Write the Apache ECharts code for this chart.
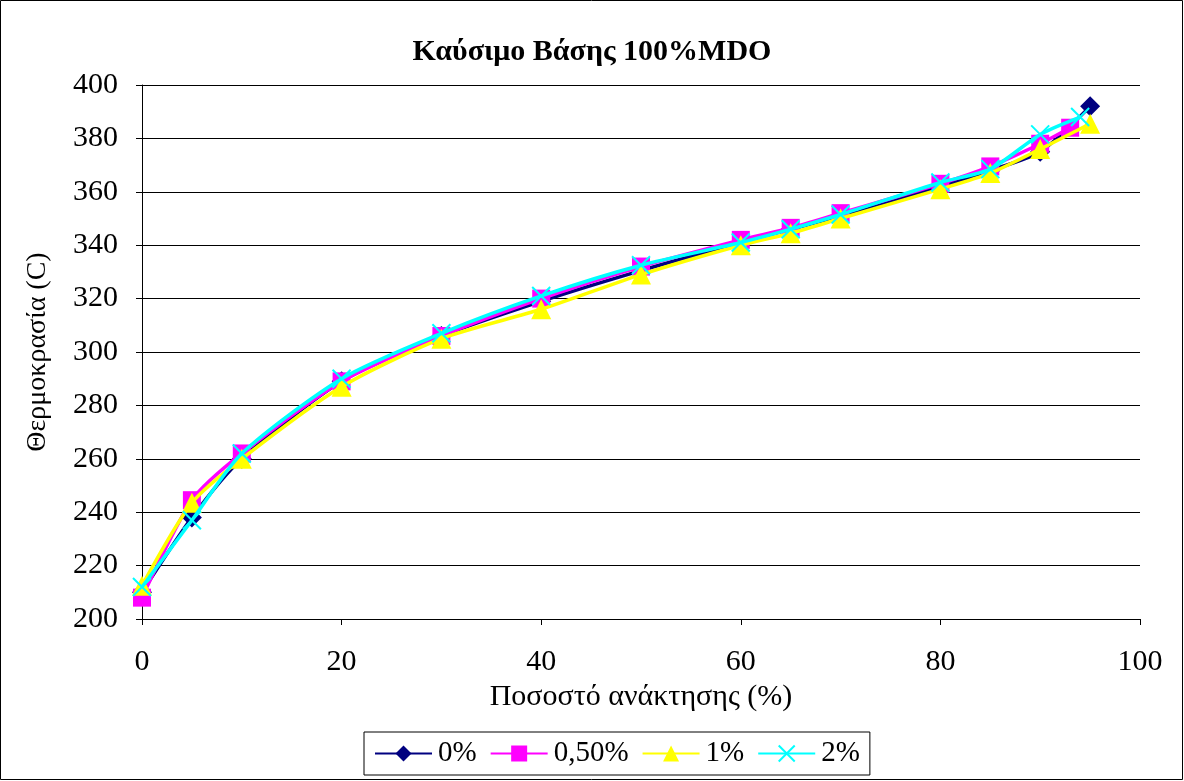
<!DOCTYPE html>
<html><head><meta charset="utf-8">
<script src="https://cdn.jsdelivr.net/npm/echarts@6/dist/echarts.min.js"></script>
<style>html,body{margin:0;padding:0;background:#fff}#c{width:1184px;height:781px}</style>
</head><body><div id="c"></div>
<script>
const title = 'Καύσιμο Βάσης 100%MDO';
const xLabel = 'Ποσοστό ανάκτησης (%)';
const yLabel = 'Θερμοκρασία (C)';
const seriesNames = ['0%', '0,50%', '1%', '2%'];
const x0 = [0, 5, 10, 20, 30, 40, 50, 60, 65, 70, 80, 85, 90, 95];
const y0 = [210, 238, 260, 289, 306, 319, 330.5, 341, 346, 351, 362, 368, 375, 392];
const x05 = [0, 5, 10, 20, 30, 40, 50, 60, 65, 70, 80, 85, 90, 93];
const y05 = [208, 244.5, 262, 289, 306, 320, 332, 342, 346.5, 352, 363, 369.5, 378, 384];
const x1 = [0, 5, 10, 20, 30, 40, 50, 60, 65, 70, 80, 85, 90, 95];
const y1 = [212.5, 243.5, 260, 287, 305, 316, 329, 340, 344.5, 350, 361, 367, 376, 385.5];
const x2 = [0, 5, 10, 20, 30, 40, 50, 60, 65, 70, 80, 85, 90, 94];
const y2 = [212, 237, 262, 290, 307, 321, 332.5, 341, 346, 351.5, 363.5, 368.5, 381.5, 388];

const font = "'Liberation Serif','Times New Roman',serif";
const colors = ['#000080', '#FF00FF', '#FFFF00', '#00FFFF'];
const xs = [x0, x05, x1, x2];
const ys = [y0, y05, y1, y2];
const symbols = ['diamond', 'rect', 'triangle', 'path://M0,0L10,10M10,0L0,10'];
const sizes = [20, 18, 20, 18];

const chart = echarts.init(document.getElementById('c'));
chart.setOption({
  backgroundColor: '#fff',
  animation: false,
  title: { text: title, left: 'center', top: 32, textStyle: { fontFamily: font, fontSize: 30, fontWeight: 'bold', color: '#000' } },
  grid: { left: 142, top: 85, width: 998, height: 534, containLabel: false },
  legend: {
    bottom: 6, left: 364, data: seriesNames,
    itemWidth: 57, itemHeight: 20, itemGap: 13,
    borderColor: '#000', borderWidth: 1, padding: [7, 10, 7, 10],
    textStyle: { fontFamily: font, fontSize: 29, color: '#000', padding: [0, 0, 0, 1] }
  },
  xAxis: {
    type: 'value', min: 0, max: 100, interval: 20,
    name: xLabel, nameLocation: 'middle', nameGap: 57,
    nameTextStyle: { fontFamily: font, fontSize: 30, color: '#000' },
    axisLine: { lineStyle: { color: '#000', width: 1 } },
    axisTick: { show: true, inside: false, length: 6, lineStyle: { color: '#000' } },
    axisLabel: { fontFamily: font, fontSize: 30, color: '#000', margin: 28 },
    splitLine: { show: false }
  },
  yAxis: {
    type: 'value', min: 200, max: 400, interval: 20,
    name: yLabel, nameLocation: 'middle', nameGap: 90, nameRotate: 90,
    nameTextStyle: { fontFamily: font, fontSize: 28, color: '#000' },
    axisLine: { show: true, lineStyle: { color: '#000', width: 1 } },
    axisTick: { show: true, inside: false, length: 6, lineStyle: { color: '#000' } },
    axisLabel: { fontFamily: font, fontSize: 30, color: '#000', margin: 24 },
    splitLine: { show: true, lineStyle: { color: '#000', width: 1 } }
  },
  graphic: [{ type: 'rect', shape: { x: 0.5, y: 0.5, width: 1182, height: 779 }, style: { fill: 'none', stroke: '#000', lineWidth: 1 }, silent: true }],
  series: seriesNames.map((n, i) => ({
    name: n, type: 'line', smooth: 0.25,
    data: xs[i].map((x, j) => [x, ys[i][j]]),
    symbol: symbols[i], symbolSize: sizes[i],
    lineStyle: { color: colors[i], width: 3.5 },
    itemStyle: i === 3 ? { color: colors[i], borderColor: colors[i], borderWidth: 2 } : { color: colors[i], borderWidth: 0 },
    z: 2 + i
  }))
});
</script></body></html>
